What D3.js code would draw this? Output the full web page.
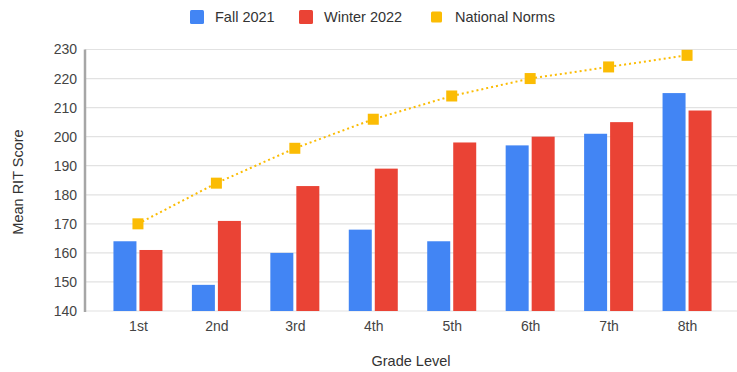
<!DOCTYPE html>
<html>
<head>
<meta charset="utf-8">
<script src="https://cdn.jsdelivr.net/npm/d3@7/dist/d3.min.js"></script>
<style>
  html, body { margin: 0; padding: 0; background: #fff; }
  svg { display: block; font-family: Arial, "Liberation Sans", sans-serif; }
</style>
</head>
<body>
<svg id="chart" width="737" height="372"></svg>
<script>
// Grade levels and mean RIT scores
const grades = ["1st", "2nd", "3rd", "4th", "5th", "6th", "7th", "8th"];
const fall2021 = [164, 149, 160, 168, 164, 197, 201, 215];
const winter2022 = [161, 171, 183, 189, 198, 200, 205, 209];
const nationalNorms = [170, 184, 196, 206, 214, 220, 224, 228];
const yTicks = [140, 150, 160, 170, 180, 190, 200, 210, 220, 230];

const seriesNames = ["Fall 2021", "Winter 2022", "National Norms"];
const colors = { fall: "#4285F4", winter: "#EA4335", norms: "#FBBC04" };

const svg = d3.select("#chart");
const W = 737, H = 372;
const plot = { left: 85, right: 740, top: 49.5, bottom: 311 };

const x = d3.scalePoint().domain(grades).range([plot.left, plot.right]).padding(0.675);
const y = d3.scaleLinear().domain([140, 230]).range([plot.bottom, plot.top]);

const barW = 23, barGap = 3;

// Horizontal gridlines
svg.append("g")
  .selectAll("line")
  .data(yTicks)
  .join("line")
  .attr("x1", plot.left)
  .attr("x2", W)
  .attr("y1", d => y(d))
  .attr("y2", d => y(d))
  .attr("stroke", "#e2e2e2")
  .attr("stroke-width", 1.2);

// Y axis tick labels
const yAxis = d3.axisLeft(y).tickValues(yTicks).tickSize(0).tickPadding(8);
const gy = svg.append("g").attr("transform", `translate(${plot.left},0)`).call(yAxis);
gy.select(".domain").remove();
gy.selectAll("text").attr("font-size", 14).attr("fill", "#444");

// X axis tick labels
const xAxis = d3.axisBottom(x).tickSize(0).tickPadding(10);
const gx = svg.append("g").attr("transform", `translate(0,${plot.bottom})`).call(xAxis);
gx.select(".domain").remove();
gx.selectAll("text").attr("font-size", 14).attr("fill", "#444");

// Bars
const bars = svg.append("g");
bars.selectAll("rect.fall")
  .data(grades)
  .join("rect")
  .attr("class", "fall")
  .attr("x", d => x(d) - barGap / 2 - barW)
  .attr("width", barW)
  .attr("y", (d, i) => y(fall2021[i]))
  .attr("height", (d, i) => y(140) - y(fall2021[i]))
  .attr("fill", colors.fall);
bars.selectAll("rect.winter")
  .data(grades)
  .join("rect")
  .attr("class", "winter")
  .attr("x", d => x(d) + barGap / 2)
  .attr("width", barW)
  .attr("y", (d, i) => y(winter2022[i]))
  .attr("height", (d, i) => y(140) - y(winter2022[i]))
  .attr("fill", colors.winter);

// Left axis line
svg.append("line")
  .attr("x1", plot.left).attr("x2", plot.left)
  .attr("y1", plot.top).attr("y2", plot.bottom + 1)
  .attr("stroke", "#a6a6a6").attr("stroke-width", 2.5);

// National norms line with square markers
const line = d3.line().x(d => x(d.g)).y(d => y(d.v));
const normPts = grades.map((g, i) => ({ g, v: nationalNorms[i] }));
svg.append("path")
  .datum(normPts)
  .attr("d", line)
  .attr("fill", "none")
  .attr("stroke", colors.norms)
  .attr("stroke-width", 2)
  .attr("stroke-dasharray", "2,3");
svg.append("g")
  .selectAll("rect")
  .data(normPts)
  .join("rect")
  .attr("x", d => x(d.g) - 5.5)
  .attr("y", d => y(d.v) - 5.5)
  .attr("width", 11)
  .attr("height", 11)
  .attr("fill", colors.norms);

// Axis titles
svg.append("text")
  .attr("x", 411).attr("y", 366)
  .attr("text-anchor", "middle")
  .attr("font-size", 14.5).attr("fill", "#333")
  .text("Grade Level");
svg.append("text")
  .attr("transform", "translate(23,182) rotate(-90)")
  .attr("text-anchor", "middle")
  .attr("font-size", 14.5).attr("fill", "#333")
  .text("Mean RIT Score");

// Legend
const legendItems = [
  { name: seriesNames[0], color: colors.fall, x: 190, size: 14, tx: 215 },
  { name: seriesNames[1], color: colors.winter, x: 299, size: 14, tx: 324 },
  { name: seriesNames[2], color: colors.norms, x: 431, size: 11, tx: 455 }
];
const lg = svg.append("g");
legendItems.forEach(it => {
  lg.append("rect")
    .attr("x", it.x).attr("y", 17 - it.size / 2)
    .attr("width", it.size).attr("height", it.size)
    .attr("rx", 1.5)
    .attr("fill", it.color);
  lg.append("text")
    .attr("x", it.tx)
    .attr("y", 17).attr("dy", "0.35em")
    .attr("font-size", 14.5).attr("fill", "#333")
    .text(it.name);
});
</script>
</body>
</html>
